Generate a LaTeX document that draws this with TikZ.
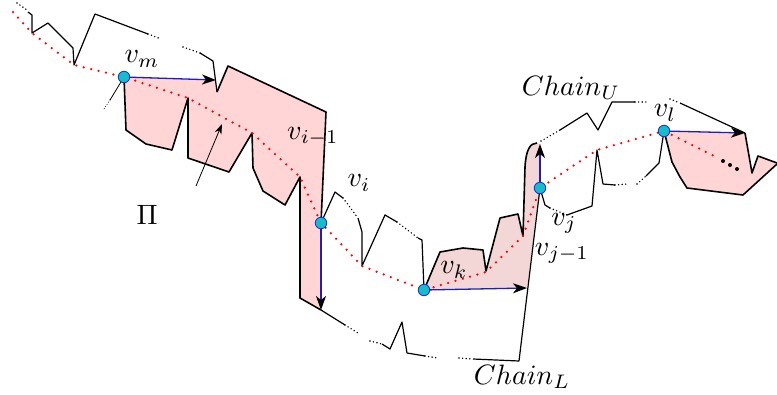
\documentclass[tikz,border=0pt]{standalone}
\usepackage{graphicx}
\usetikzlibrary{arrows.meta}
\definecolor{pinkA}{RGB}{255,213,213}
\definecolor{pinkB}{RGB}{243,214,214}
\definecolor{vcyan}{RGB}{20,190,200}
\definecolor{vblue}{RGB}{40,40,210}
\definecolor{ablue}{RGB}{30,30,190}
\begin{document}
\begin{tikzpicture}[x=1pt,y=-1pt,
  chn/.style={line width=1.2pt, line join=round},
  pout/.style={line width=1.6pt, line join=round},
  dotsb/.style={line width=1.6pt, dash pattern=on 0pt off 3.6pt, line cap=round},
  reddots/.style={red, line width=2.5pt, dash pattern=on 0pt off 7.6pt, line cap=round},
  vtx/.style={circle, draw=vblue, fill=vcyan, line width=0.8pt, minimum size=11.5pt, inner sep=0pt},
  lab/.style={inner sep=0pt},
  barrow/.style={ablue, line width=1.3pt, -{Stealth[length=14pt,width=10pt,inset=4pt,black]}},
  thinarrow/.style={black, line width=0.8pt, -{Stealth[length=10pt,width=7pt,inset=3pt]}}
]
\useasboundingbox (0,0) rectangle (777,394);

\path (124,77) coordinate (pvm) (321,223) coordinate (pvi) (424,290) coordinate (pvk)
      (540,188) coordinate (pvj) (664,131) coordinate (pvl);
\coordinate (am) at (216,80);
\coordinate (ai) at (321,310);
\coordinate (ak) at (527,288);
\coordinate (aj) at (540,144);
\coordinate (al) at (745,133);

% pink regions
\fill[pinkA] (pvm) -- (am) -- (217,92) -- (228,66) -- (326,112) -- (pvi) -- (ai) -- (300,298)
  -- (300,177) -- (285,205) -- (263,191) -- (253,168) -- (252,133) -- (229,172) -- (188,158)
  -- (188,98) -- (172,150) -- (146,144) -- (126,130) -- cycle;
\fill[pinkB] (pvk) -- (440,252) -- (463,248) -- (483,250) -- (486,271) -- (500,218) -- (518,214)
  -- (523,236) -- (525,167) .. controls (526,150) and (530,143) .. (537,143) -- (aj) -- (pvj) -- (ak) -- cycle;
\fill[pinkA] (pvl) -- (al) -- (752,173) -- (758,156) -- (777,163) -- (743,195) -- (687,188)
  -- (680,177) -- (672,162) -- cycle;

% chain U, left part
\draw[dotsb] (17,3) -- (27,10);
\draw[chn] (28,12) -- (32,15) -- (32,33) -- (48,23) -- (73,48) -- (74,65) -- (95,14) -- (148,34);
\draw[dotsb] (148,34) -- (161,39);
\draw[dotsb] (183,47) -- (200,53);
\draw[chn] (200,53) -- (213,61) -- (217,92);
\draw[pout] (217,92) -- (228,66) -- (326,112) -- (pvi);
% left pink lower outline and chain L
\draw[pout] (pvm) -- (126,130) -- (146,144) -- (172,150) -- (188,98) -- (188,158) -- (229,172)
  -- (252,133) -- (253,168) -- (263,191) -- (285,205) -- (300,177) -- (300,298) -- (ai);
\draw[chn] (ai) -- (345,325);
\draw[dotsb] (345,325) -- (358,333);
\draw[dotsb] (370,341) -- (382,344);
\draw[chn] (382,344) -- (390,349) -- (402,322) -- (407,353) -- (425,356);
\draw[dotsb] (425,356) -- (438,358);
\draw[dotsb] (459,358) -- (473,359);
\draw[chn] (473,359) -- (519,361) -- (pvj);
% line leaving v_m
\draw[chn, line width=0.8pt] (pvm) -- (110,100);
\draw[dotsb, line width=1.1pt, dash pattern=on 0pt off 2.6pt] (110,100) -- (104,109);
% middle chain between v_i and v_k
\draw[chn] (pvi) -- (335,192) -- (343,198);
\draw[dotsb] (343,198) -- (358,218);
\draw[chn] (358,218) -- (362,232) -- (362,266) -- (385,215) -- (397,222);
\draw[dotsb] (397,222) -- (418,238);
\draw[chn] (418,238) -- (422,240) -- (pvk);
% v_k region outline
\draw[pout] (pvk) -- (440,252) -- (463,248) -- (483,250) -- (486,271) -- (500,218) -- (518,214)
  -- (523,236) -- (525,167) .. controls (526,150) and (530,143) .. (537,143);
% chain U right part
\draw[dotsb] (541,141) -- (560,130);
\draw[chn] (560,130) -- (587,113) -- (598,130) -- (612,102) -- (635,102);
\draw[dotsb] (635,102) -- (648,102);
\draw[dotsb] (670,99) -- (680,103);
\draw[chn] (680,103) -- (al);
\draw[pout] (al) -- (752,173) -- (758,156) -- (777,163);
\draw[pout] (777,164) -- (743,195) -- (687,188) -- (680,177) -- (672,162) -- (pvl);
% chain between v_j and v_l (lower)
\draw[chn] (pvj) -- (545,205) -- (550,208);
\draw[dotsb] (550,208) -- (567,215);
\draw[chn] (567,215) -- (592,206) -- (597,150) -- (603,184) -- (615,185);
\draw[dotsb] (615,185) -- (628,184);
\draw[dotsb] (637,184) -- (646,176);
\draw[chn] (646,176) -- (659,163) -- (pvl);

% red dotted path
\draw[reddots] (13,12) -- (32,33) -- (74,65) -- (pvm) -- (188,98) -- (252,133) -- (300,177)
  -- (pvi) -- (362,266) -- (pvk) -- (486,272) -- (523,236) -- (pvj) -- (597,150) -- (pvl) -- (716,157);
\fill (723,161) circle (2pt) (730,165) circle (2pt) (737,169) circle (2pt);

% small arrow inside the pink region
\coordinate (sa) at (196,186);
\coordinate (sb) at (222,124);
\draw[thinarrow] (sa) -- (sb);

% vertex nodes
\node[vtx] (vm) at (pvm) {};
\node[vtx] (vi) at (pvi) {};
\node[vtx] (vk) at (pvk) {};
\node[vtx] (vj) at (pvj) {};
\node[vtx] (vl) at (pvl) {};

% blue arrows
\draw[barrow] (vm) -- (am);
\draw[barrow] (vi) -- (ai);
\draw[barrow] (vk) -- (ak);
\draw[barrow] (vj) -- (aj);
\draw[barrow] (vl) -- (al);

% labels
\node[lab] (lvm) at (142,59) {\scalebox{2.8}{$v_m$}};
\node[lab] (lvi1) at (313,137) {\scalebox{2.8}{$v_{i-1}$}};
\node[lab] (lvi) at (359,183) {\scalebox{2.8}{$v_i$}};
\node[lab] (lvk) at (454,270) {\scalebox{2.8}{$v_k$}};
\node[lab] (lvj) at (564,223) {\scalebox{2.8}{$v_j$}};
\node[lab] (lvj1) at (562,253) {\scalebox{2.8}{$v_{j-1}$}};
\node[lab] (lvl) at (665,113) {\scalebox{2.8}{$v_l$}};
\node[lab] (lcu) at (571,88) {\scalebox{2.8}{$Chain_U$}};
\node[lab] (lcl) at (522,377) {\scalebox{2.8}{$Chain_L$}};
\node[lab] (lpi) at (147,215) {\scalebox{2.8}{$\Pi$}};
\end{tikzpicture}
\end{document}
